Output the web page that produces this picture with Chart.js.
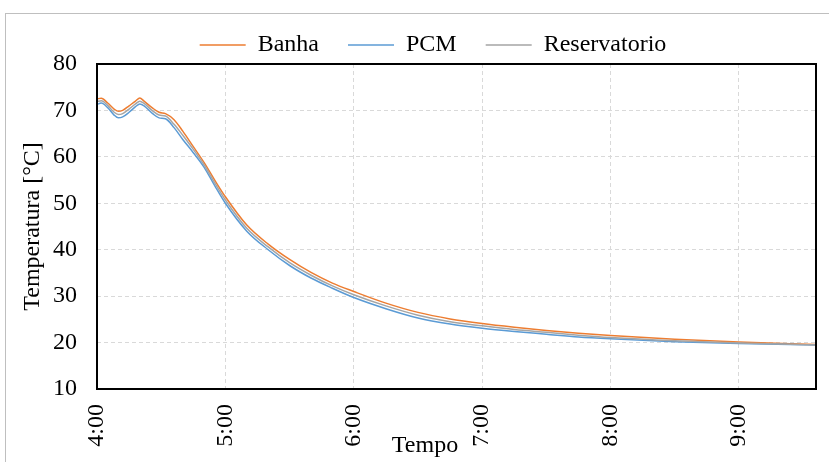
<!DOCTYPE html>
<html>
<head>
<meta charset="utf-8">
<script src="https://cdn.jsdelivr.net/npm/chart.js@4.4.0/dist/chart.umd.min.js"></script>
<style>
  html, body { margin: 0; padding: 0; background: #fff; overflow: hidden; }
  #wrap { position: relative; width: 829px; height: 462px; }
  #frame { position: absolute; left: 5px; top: 13px; width: 900px; height: 600px; border: 1px solid #bfbfbf; }
  canvas { position: absolute; left: 0; top: 0; }
</style>
</head>
<body>
<div id="wrap">
  <div id="frame"></div>
  <canvas id="chart" width="829" height="462"></canvas>
</div>
<script>
// minutes after 4:00
const minutes = [0, 2, 5, 8, 10, 12, 15, 18, 20, 22, 26, 29, 32, 36, 40, 45, 50, 55, 60, 70, 80, 90, 100, 110, 120, 135, 150, 165, 180, 195, 210, 225, 240, 270, 300, 336];

const banha = [72.5, 72.6, 71.6, 70.3, 69.8, 70.0, 71.0, 72.0, 72.7, 72.0, 70.5, 69.6, 69.3, 68.0, 65.6, 62.2, 58.8, 55.0, 51.4, 45.3, 41.2, 37.9, 35.1, 32.8, 31.0, 28.5, 26.5, 25.1, 24.1, 23.3, 22.6, 22.0, 21.5, 20.7, 20.1, 19.6];
const pcm = [71.3, 71.6, 70.6, 69.0, 68.4, 68.6, 69.6, 70.8, 71.4, 71.0, 69.3, 68.4, 68.2, 66.3, 63.8, 60.9, 57.8, 53.8, 50.0, 44.0, 40.0, 36.6, 33.9, 31.7, 29.7, 27.3, 25.3, 24.0, 23.1, 22.4, 21.8, 21.2, 20.8, 20.2, 19.8, 19.5];
const reservatorio = [71.9, 72.1, 71.1, 69.6, 69.1, 69.3, 70.3, 71.4, 72.0, 71.5, 69.9, 69.0, 68.8, 67.0, 64.7, 61.6, 58.3, 54.4, 50.7, 44.6, 40.6, 37.2, 34.5, 32.2, 30.3, 27.9, 25.9, 24.5, 23.6, 22.8, 22.2, 21.6, 21.1, 20.4, 19.9, 19.5];

const hourLabels = ["4:00", "5:00", "6:00", "7:00", "8:00", "9:00"];
const seriesNames = ["Banha", "PCM", "Reservatorio"];
const seriesColors = ["#ED7D31", "#5B9BD5", "#A5A5A5"];

const FONT = "'Liberation Serif', 'Times New Roman', serif";

function toPoints(values) {
  return minutes.map((m, i) => ({ x: m, y: values[i] }));
}

// black box around the plot, legend nudge, x title placed like the excel one
const extras = {
  id: "extras",
  beforeInit(chart) {
    const fit = chart.legend.fit;
    chart.legend.fit = function() {
      fit.call(this);
      this.height = 64;
    };
  },
  afterLayout(chart) {
    chart.legend.left += 21;
    chart.legend.right += 21;
    chart.legend.top += 4;
  },
  afterDraw(chart) {
    const a = chart.chartArea, ctx = chart.ctx;
    ctx.save();
    ctx.strokeStyle = "#000";
    ctx.lineWidth = 2;
    ctx.strokeRect(a.left, a.top, a.right - a.left, a.bottom - a.top);
    ctx.fillStyle = "#000";
    ctx.font = "24px " + FONT;
    ctx.textAlign = "center";
    ctx.textBaseline = "middle";
    ctx.fillText("Tempo", 425, 446);
    ctx.restore();
  }
};

const grid = {
  color: "#d9d9d9",
  lineWidth: 1,
  drawTicks: false
};

new Chart(document.getElementById("chart").getContext("2d"), {
  type: "line",
  data: {
    datasets: [banha, pcm, reservatorio].map((vals, i) => ({
      label: seriesNames[i],
      data: toPoints(vals),
      borderColor: seriesColors[i],
      backgroundColor: seriesColors[i],
      borderWidth: 1.5,
      pointRadius: 0,
      cubicInterpolationMode: "monotone",
      order: 3 - i
    }))
  },
  options: {
    responsive: false,
    animation: false,
    layout: { padding: { left: 8, right: 13, top: 0, bottom: 0 } },
    plugins: {
      tooltip: { enabled: false },
      legend: {
        position: "top",
        labels: {
          usePointStyle: true,
          pointStyle: "line",
          pointStyleWidth: 46,
          boxHeight: 10,
          padding: 29,
          color: "#000",
          font: { family: FONT, size: 24 },
          sort: (a, b) => a.datasetIndex - b.datasetIndex
        }
      }
    },
    scales: {
      x: {
        type: "linear",
        min: 0,
        max: 336,
        afterFit(scale) { scale.height = 73; },
        grid: grid,
        border: { display: false, dash: [4, 3] },
        ticks: {
          stepSize: 60,
          autoSkip: false,
          minRotation: 90,
          maxRotation: 90,
          padding: 15,
          color: "#000",
          font: { family: FONT, size: 24 },
          callback: v => hourLabels[v / 60]
        }
      },
      y: {
        min: 10,
        max: 80,
        afterFit(scale) { scale.width = 89; },
        grid: grid,
        border: { display: false, dash: [4, 3] },
        ticks: {
          stepSize: 10,
          padding: 20,
          color: "#000",
          font: { family: FONT, size: 24 }
        },
        title: {
          display: true,
          text: "Temperatura [°C]",
          color: "#000",
          padding: { top: 10, bottom: 0 },
          font: { family: FONT, size: 24 }
        }
      }
    }
  },
  plugins: [extras]
});
</script>
</body>
</html>
